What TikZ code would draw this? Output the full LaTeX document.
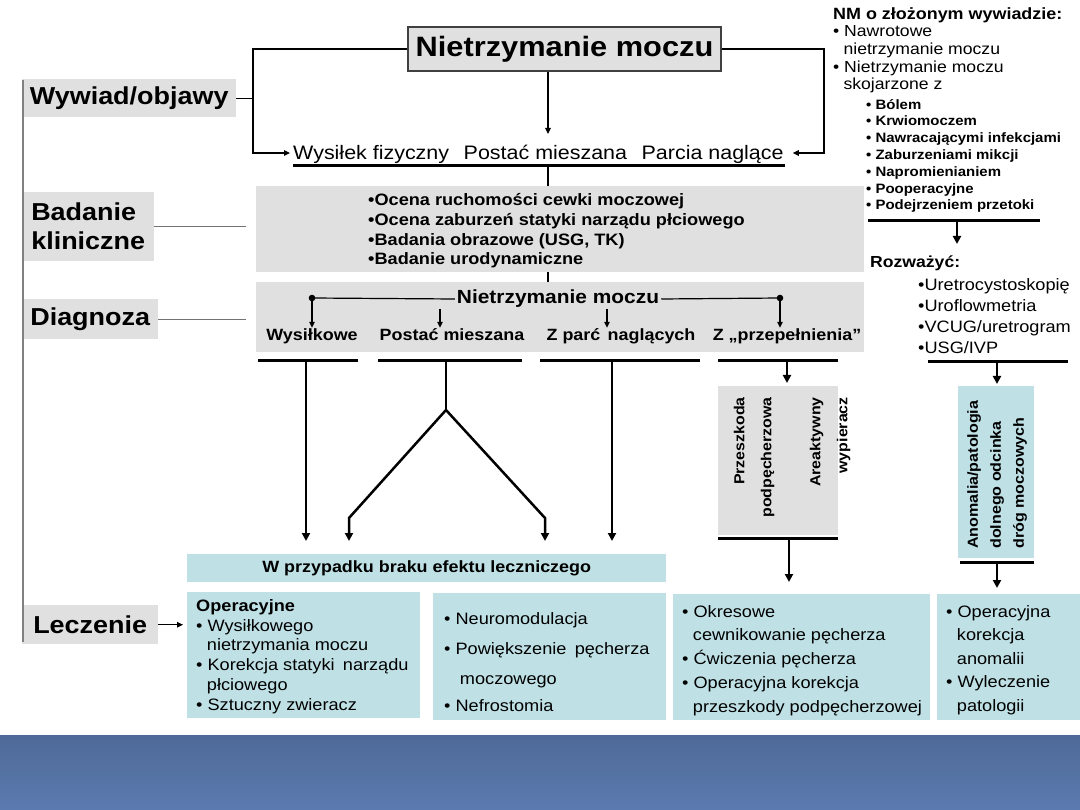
\documentclass[tikz,border=0pt]{standalone}
\usepackage{fontspec}
\setmainfont[FakeStretch=1.1]{Liberation Sans}
\usetikzlibrary{arrows.meta}
\definecolor{lgray}{HTML}{E0E0E0}
\definecolor{lcyan}{HTML}{BFE1E6}
\definecolor{bandA}{HTML}{4F6A98}
\definecolor{bandB}{HTML}{5B7AAF}
\newcommand{\fs}[2]{\fontsize{#1}{#2}\selectfont}
\newcommand{\ind}{\hspace*{0.65em}}
\begin{document}
\begin{tikzpicture}[x=1pt,y=-1pt,
  conn/.style={line width=1.2pt},
  tip/.style={-{Triangle[length=6pt,width=5.5pt]}},
  btip/.style={-{Triangle[length=8pt,width=8pt]}},
  bar/.style={line width=3pt},
  stem/.style={line width=2.5pt},
  gbox/.style={fill=lgray, draw=none, inner sep=0, anchor=north west},
  cbox/.style={fill=lcyan, draw=none, inner sep=0, anchor=north west},
  lab/.style={fill=lgray, inner sep=0, anchor=north west, font=\bfseries\fs{24.5}{29}},
  sidel/.style={draw=black!55, line width=1.3pt},
  dl/.style={font=\bfseries\fs{16.3}{18}, inner sep=1pt, text height=12pt, text depth=4pt},
  txt/.style={anchor=north west, align=left, inner sep=0},
]
\useasboundingbox (0,0) rectangle (1080,810);
\fill[white] (0,0) rectangle (1080,810);
\shade[top color=bandA, bottom color=bandB] (0,735) rectangle (1080,810);

% ---- title and left labels
\node[gbox, draw=black!75, line width=1.2pt, minimum width=313, minimum height=44, anchor=center, font=\bfseries\fs{28}{32}] (title) at (564.5,49) {Nietrzymanie moczu};
\node[lab, minimum width=214, minimum height=38] (wyw) at (22,79) {Wywiad/objawy};
\node[lab, minimum width=132, minimum height=69, align=left] (bk) at (22,192) {Badanie\\kliniczne};
\node[lab, minimum width=136, minimum height=40] (dg) at (22,299) {Diagnoza};
\node[lab, minimum width=136, minimum height=39] (lc) at (22,605) {Leczenie};
\coordinate (vt) at (23,80);
\coordinate (vb) at (23,642);
\draw[black!50, line width=1.6pt] (vt) -- (vb);

% ---- history row
\coordinate (lj) at (253,153);
\coordinate (rj) at (824,153);
\node[font=\fs{19.5}{22}, inner sep=3pt, anchor=west] (row) at (290,154) {Wysiłek fizyczny\hspace{0.75em}Postać mieszana\hspace{0.75em}Parcia naglące};
\draw[conn] (wyw.east) -- (wyw.east -| lj);
\draw[conn,tip] (title.west) -| (lj) -- (lj -| row.west);
\draw[conn,tip] (title.east) -| (rj) -- ([xshift=6pt]rj -| row.east);
\coordinate (a1) at (548,134);
\draw[conn,tip] (title.south -| a1) -- (a1);
\coordinate (u1) at (293,166);
\coordinate (u2) at (785,166);
\draw[bar] (u1) -- (u2);

% ---- clinical examination
\node[gbox, minimum width=608, minimum height=86] (bad) at (256,186) {};
\draw[stem] (a1 |- u1) -- (a1 |- bad.north);
\node[txt, font=\bfseries\fs{16.5}{19.6}] (badt) at (368,193.5) {•Ocena ruchomości cewki moczowej\\•Ocena zaburzeń statyki narządu płciowego\\•Badania obrazowe (USG, TK)\\•Badanie urodynamiczne};
\coordinate (bke) at (246,0);
\draw[sidel] (bk.east) -- (bk.east -| bke);

% ---- diagnosis
\node[gbox, minimum width=608, minimum height=70] (diag) at (256,282) {};
\draw[line width=2pt] (bad.south -| a1) -- (diag.north -| a1);
\draw[sidel] (dg.east) -- (dg.east -| bke);
\node[font=\bfseries\fs{19}{21}, inner sep=2pt] (dnm) at (558,299) {Nietrzymanie moczu};
\coordinate (d1) at (312,298);
\coordinate (d2) at (780,298);
\node[dl] (w1) at (312,337) {Wysiłkowe};
\node[dl] (w2) at (452,337) {Postać mieszana};
\node[dl] (w3) at (621,337) {Z parć\hspace{0.45em}naglących};
\node[dl] (w4) at (787,337) {Z „przepełnienia”};
\draw[conn] (dnm.west) -- (d1);
\draw[conn] (dnm.east) -- (d2);
\fill (d1) circle (3.3);
\fill (d2) circle (3.3);
\draw[conn,tip] (d1) -- (d1 |- w1.north);
\draw[conn,tip] (d2) -- (d2 |- w4.north);
\coordinate (s2) at (440,309);
\coordinate (s3) at (607,309);
\draw[conn,tip] (s2) -- (s2 |- w2.north);
\draw[conn,tip] (s3) -- (s3 |- w3.north);

% ---- bars under diagnosis
\coordinate (b1a) at (258,361); \coordinate (b1b) at (358,361);
\coordinate (b2a) at (378,361); \coordinate (b2b) at (522,361);
\coordinate (b3a) at (540,361); \coordinate (b3b) at (700,361);
\coordinate (b4a) at (718,361); \coordinate (b4b) at (838,361);
\draw[bar] (b1a) -- (b1b);
\draw[bar] (b2a) -- (b2b);
\draw[bar] (b3a) -- (b3b);
\draw[bar] (b4a) -- (b4b);

\node[cbox, minimum width=479, minimum height=28, font=\bfseries\fs{16.3}{18}] (wp) at (187,554) {W przypadku braku efektu leczniczego};
\coordinate (e1) at (306,541);
\coordinate (e2) at (349,541);
\coordinate (e3) at (545,541);
\coordinate (e4) at (612,541);
\coordinate (fork) at (446,410);
\draw[stem,btip] (e1 |- b1a) -- (e1);
\draw[stem] (fork |- b2a) -- (fork);
\draw[stem,btip] (fork) -- (349,518) -- (e2);
\draw[stem,btip] (fork) -- (545,518) -- (e3);
\draw[stem,btip] (e4 |- b3a) -- (e4);

% ---- overflow branch
\node[gbox, minimum width=120, minimum height=149] (prz) at (718,386) {};
\draw[stem,btip] (787,361) -- (787,383);
\node[rotate=90, anchor=east, align=right, inner sep=0, font=\bfseries\fs{14.5}{27}] (przt) at (754,397) {Przeszkoda\\podpęcherzowa};
\node[rotate=90, anchor=east, align=right, inner sep=0, font=\bfseries\fs{14.5}{27}] (aret) at (830,397) {Areaktywny\\wypieracz};
\coordinate (p1) at (718,538); \coordinate (p2) at (838,538);
\draw[bar] (p1) -- (p2);
\coordinate (p3) at (789,582);
\draw[stem,btip] (p3 |- p1) -- (p3);

% ---- complex history
\node[anchor=west, inner sep=0, font=\bfseries\fs{16.3}{18}] (nmh) at (833,15) {NM o złożonym wywiadzie:};
\node[txt, font=\fs{16}{17.7}] (nmi) at (833,25.5) {• Nawrotowe\\\ind nietrzymanie moczu\\• Nietrzymanie moczu\\\ind skojarzone z};
\node[txt, font=\bfseries\fs{13.6}{16.8}] (nms) at (866,99) {• Bólem\\• Krwiomoczem\\• Nawracającymi infekcjami\\• Zaburzeniami mikcji\\• Napromienianiem\\• Pooperacyjne\\• Podejrzeniem przetoki};
\coordinate (r1) at (868,221); \coordinate (r2) at (1040,221);
\draw[bar] (r1) -- (r2);
\coordinate (r3) at (957,244);
\draw[stem,btip] (r3 |- r1) -- (r3);
\node[anchor=west, inner sep=0, font=\bfseries\fs{16}{19}] (roz) at (870,263) {Rozważyć:};
\node[txt, font=\fs{16.5}{21}] (rozi) at (918,278) {•Uretrocystoskopię\\•Uroflowmetria\\•VCUG/uretrogram\\•USG/IVP};
\coordinate (q1) at (928,362); \coordinate (q2) at (1068,362);
\draw[bar] (q1) -- (q2);
\node[cbox, minimum width=76, minimum height=172] (ano) at (958,386) {};
\draw[stem,btip] (997,362) -- (997,384);
\node[rotate=90, anchor=west, align=left, inner sep=0, font=\bfseries\fs{14.6}{23}] (anot) at (997,549) {Anomalia/patologia\\dolnego odcinka\\dróg moczowych};
\coordinate (t1) at (960,562); \coordinate (t2) at (1034,562);
\draw[bar] (t1) -- (t2);
\coordinate (t3) at (997,588);
\draw[stem,btip] (t3 |- t1) -- (t3);

% ---- treatment boxes
\node[cbox, minimum width=233, minimum height=126] (op) at (187,592) {};
\node[cbox, minimum width=233, minimum height=127] (neu) at (433,593) {};
\node[cbox, minimum width=257, minimum height=126] (okr) at (673,594) {};
\node[cbox, minimum width=143, minimum height=126] (kor) at (937,594) {};
\draw[conn,tip,shorten >=4pt] (lc.east) -- (lc.east -| op.west);

\node[txt, font=\fs{16.5}{19.9}] (opt) at (196,599) {{\bfseries Operacyjne}\\• Wysiłkowego\\\ind nietrzymania moczu\\• Korekcja statyki\hspace{0.5em}narządu\\\ind płciowego\\• Sztuczny zwieracz};
\node[txt, font=\fs{16.5}{30}] (neut) at (444,612) {• Neuromodulacja\\• Powiększenie\hspace{0.5em}pęcherza\\\ind\ moczowego};
\node[txt, font=\fs{16.5}{19}] (neut2) at (444,699) {• Nefrostomia};
\node[txt, font=\fs{16.5}{23.8}] (okrt) at (682,605) {• Okresowe\\\ind cewnikowanie pęcherza\\• Ćwiczenia pęcherza\\• Operacyjna korekcja\\\ind przeszkody podpęcherzowej};
\node[txt, font=\fs{16.5}{23.6}] (kort) at (946,605) {• Operacyjna\\\ind korekcja\\\ind anomalii\\• Wyleczenie\\\ind patologii};
\end{tikzpicture}
\end{document}
